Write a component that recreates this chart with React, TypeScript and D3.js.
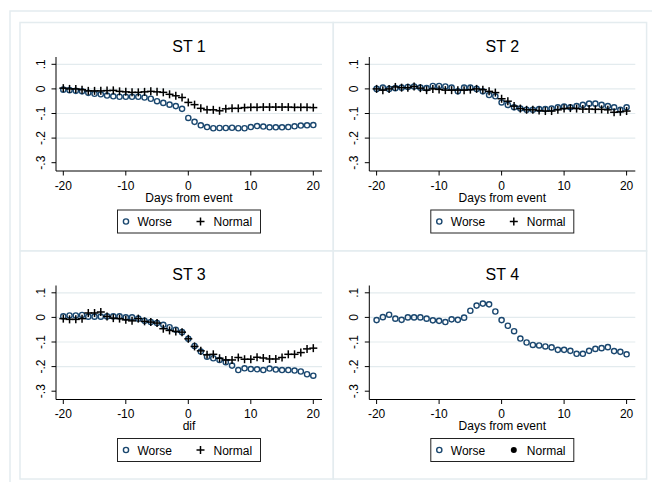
import React from "react";
import * as d3 from "d3";

const days = [-20, -19, -18, -17, -16, -15, -14, -13, -12, -11, -10, -9, -8, -7, -6, -5, -4, -3, -2, -1, 0, 1, 2, 3, 4, 5, 6, 7, 8, 9, 10, 11, 12, 13, 14, 15, 16, 17, 18, 19, 20];

const st1Worse = [-0.003, -0.005, -0.008, -0.01, -0.016, -0.02, -0.022, -0.027, -0.03, -0.032, -0.032, -0.032, -0.032, -0.035, -0.04, -0.05, -0.057, -0.064, -0.07, -0.081, -0.118, -0.134, -0.148, -0.155, -0.16, -0.159, -0.159, -0.158, -0.16, -0.16, -0.155, -0.151, -0.153, -0.156, -0.156, -0.156, -0.155, -0.152, -0.149, -0.148, -0.147];
const st1Normal = [0.003, 0, 0, -0.003, -0.008, -0.008, -0.008, -0.007, -0.006, -0.01, -0.012, -0.014, -0.014, -0.012, -0.01, -0.012, -0.014, -0.022, -0.028, -0.035, -0.055, -0.064, -0.079, -0.085, -0.085, -0.089, -0.081, -0.079, -0.079, -0.076, -0.075, -0.075, -0.074, -0.074, -0.074, -0.074, -0.074, -0.075, -0.075, -0.075, -0.076];

const st2Worse = [0, 0.005, 0, 0.003, 0.005, 0.008, 0.01, 0.005, 0.003, 0.012, 0.012, 0.01, 0.005, -0.01, 0.005, 0.005, 0, -0.01, -0.025, -0.03, -0.055, -0.065, -0.075, -0.08, -0.085, -0.085, -0.082, -0.082, -0.08, -0.075, -0.072, -0.075, -0.07, -0.065, -0.06, -0.06, -0.065, -0.07, -0.075, -0.085, -0.075];
const st2Normal = [0, -0.005, 0, 0.008, 0.005, 0.005, 0.01, 0.003, -0.005, 0, -0.002, -0.005, -0.005, -0.005, -0.005, -0.003, 0, -0.003, -0.01, -0.015, -0.04, -0.05, -0.07, -0.08, -0.085, -0.085, -0.088, -0.09, -0.09, -0.085, -0.08, -0.078, -0.08, -0.082, -0.082, -0.083, -0.083, -0.085, -0.095, -0.093, -0.09];

const st3Worse = [0.004, 0.008, 0.008, 0.01, 0.003, 0.003, 0.003, 0.004, 0.004, 0.004, 0, 0, -0.005, -0.014, -0.019, -0.023, -0.03, -0.04, -0.05, -0.06, -0.087, -0.116, -0.139, -0.16, -0.166, -0.173, -0.182, -0.196, -0.214, -0.207, -0.21, -0.211, -0.214, -0.208, -0.212, -0.214, -0.214, -0.216, -0.22, -0.231, -0.237];
const st3Normal = [-0.005, -0.008, -0.008, -0.005, 0.018, 0.018, 0.022, 0.004, -0.003, -0.005, -0.01, -0.014, -0.005, -0.016, -0.019, -0.023, -0.046, -0.053, -0.057, -0.06, -0.087, -0.118, -0.136, -0.152, -0.15, -0.166, -0.173, -0.173, -0.163, -0.17, -0.17, -0.162, -0.165, -0.169, -0.169, -0.163, -0.15, -0.15, -0.143, -0.128, -0.125];

const st4Worse = [-0.011, 0.001, 0.011, -0.005, -0.01, 0, 0, 0, -0.005, -0.012, -0.014, -0.019, -0.008, -0.01, -0.001, 0.027, 0.048, 0.056, 0.053, 0.024, -0.011, -0.034, -0.056, -0.086, -0.102, -0.112, -0.114, -0.118, -0.122, -0.132, -0.132, -0.136, -0.148, -0.148, -0.136, -0.128, -0.125, -0.121, -0.137, -0.14, -0.15];
const st4Normal: number[] = [];

const titles = ["ST 1", "ST 2", "ST 3", "ST 4"];
const xTitles = ["Days from event", "Days from event", "dif", "Days from event"];
const worseSeries = [st1Worse, st2Worse, st3Worse, st4Worse];
const normalSeries = [st1Normal, st2Normal, st3Normal, st4Normal];
const normalSymbols = ["plus", "plus", "plus", "dot"];
const legendLabels = ["Worse", "Normal"];

const xTicks = [-20, -10, 0, 10, 20];
const yTicks = [0.1, 0, -0.1, -0.2, -0.3];
const yTickLabels = [".1", "0", "-.1", "-.2", "-.3"];
const gridTicks = [0.1, 0, -0.1, -0.2];

const NAVY = "#1a476f";
const FRAME = "#e4ecef";
const GRID = "#e3ebee";
const FONT = "'Liberation Sans', Arial, Helvetica, sans-serif";

const origins = [
  [20, 22.5],
  [333.3, 22.5],
  [20, 251],
  [333.3, 251],
];

function Plus({ cx, cy, s, color }: { cx: number; cy: number; s: number; color: string }) {
  return (
    <g stroke={color} strokeWidth={1.5}>
      <line x1={cx - s} x2={cx + s} y1={cy} y2={cy} />
      <line x1={cx} x2={cx} y1={cy - s} y2={cy + s} />
    </g>
  );
}

function Panel({ i }: { i: number }) {
  const [ox, oy] = origins[i];
  const x = d3.scaleLinear().domain([-20, 20]).range([ox + 43.3, ox + 293.3]);
  const y = d3.scaleLinear().domain([-0.3, 0.1]).range([oy + 140.2, oy + 41.8]);
  const left = ox + 36;
  const right = ox + 302;
  const top = oy + 34.5;
  const bottom = oy + 148.5;
  const cx = (left + right) / 2;
  const worse = worseSeries[i];
  const normal = normalSeries[i];
  const sym = normalSymbols[i];
  const lw = 143;
  const lx = cx - lw / 2;
  const ly = oy + 187.5;
  const lh = 23;
  const ty = oy + 203.5;
  return (
    <g>
      <rect x={ox} y={oy} width={313.3} height={i < 2 ? 228.5 : 228} fill="white" stroke={FRAME} strokeWidth={1.5} />
      <text x={cx} y={oy + 29.2} textAnchor="middle" fontSize={16} fontFamily={FONT} fill="#000">
        {titles[i]}
      </text>
      {gridTicks.map((t) => (
        <line key={t} x1={left} x2={right} y1={y(t)} y2={y(t)} stroke={GRID} strokeWidth={1.2} />
      ))}
      <line x1={left} x2={left} y1={top} y2={bottom} stroke="#000" strokeWidth={1} />
      <line x1={left} x2={right} y1={bottom} y2={bottom} stroke="#000" strokeWidth={1} />
      {yTicks.map((t, k) => (
        <g key={t}>
          <line x1={left - 4.5} x2={left} y1={y(t)} y2={y(t)} stroke="#000" strokeWidth={1} />
          <text
            transform={`translate(${ox + 25},${y(t)}) rotate(-90)`}
            textAnchor="middle"
            fontSize={12}
            fontFamily={FONT}
            fill="#000"
          >
            {yTickLabels[k]}
          </text>
        </g>
      ))}
      {xTicks.map((t) => (
        <g key={t}>
          <line x1={x(t)} x2={x(t)} y1={bottom} y2={bottom + 4.5} stroke="#000" strokeWidth={1} />
          <text x={x(t)} y={oy + 167} textAnchor="middle" fontSize={12} fontFamily={FONT} fill="#000">
            {t}
          </text>
        </g>
      ))}
      <text x={cx} y={oy + 179} textAnchor="middle" fontSize={12} fontFamily={FONT} fill="#000">
        {xTitles[i]}
      </text>
      {worse.map((v, k) => (
        <circle key={"w" + k} cx={x(days[k])} cy={y(v)} r={2.6} fill="none" stroke={NAVY} strokeWidth={1.4} />
      ))}
      {normal.map((v, k) =>
        sym === "plus" ? (
          <Plus key={"n" + k} cx={x(days[k])} cy={y(v)} s={4} color="#000" />
        ) : (
          <circle key={"n" + k} cx={x(days[k])} cy={y(v)} r={3} fill="#000" />
        )
      )}
      <rect x={lx} y={ly} width={lw} height={lh} fill="white" stroke="#222" strokeWidth={1} />
      <circle cx={lx + 8.5} cy={ly + lh / 2} r={2.6} fill="none" stroke={NAVY} strokeWidth={1.4} />
      <text x={lx + 20} y={ty} fontSize={12} fontFamily={FONT} fill="#000">
        {legendLabels[0]}
      </text>
      {sym === "plus" ? (
        <Plus cx={lx + 83} cy={ly + lh / 2} s={4} color="#000" />
      ) : (
        <circle cx={lx + 83} cy={ly + lh / 2} r={3} fill="#000" />
      )}
      <text x={lx + 96} y={ty} fontSize={12} fontFamily={FONT} fill="#000">
        {legendLabels[1]}
      </text>
    </g>
  );
}

export default function App() {
  return (
    <svg
      width={652}
      height={482}
      style={{ position: "absolute", left: 0, top: 0, display: "block", background: "white" }}
    >
      <rect x={0} y={0} width={652} height={482} fill="white" />
      <rect x={10} y={11} width={700} height={520} fill="white" stroke={FRAME} strokeWidth={1.5} />
      {[0, 1, 2, 3].map((i) => (
        <Panel key={i} i={i} />
      ))}
    </svg>
  );
}
